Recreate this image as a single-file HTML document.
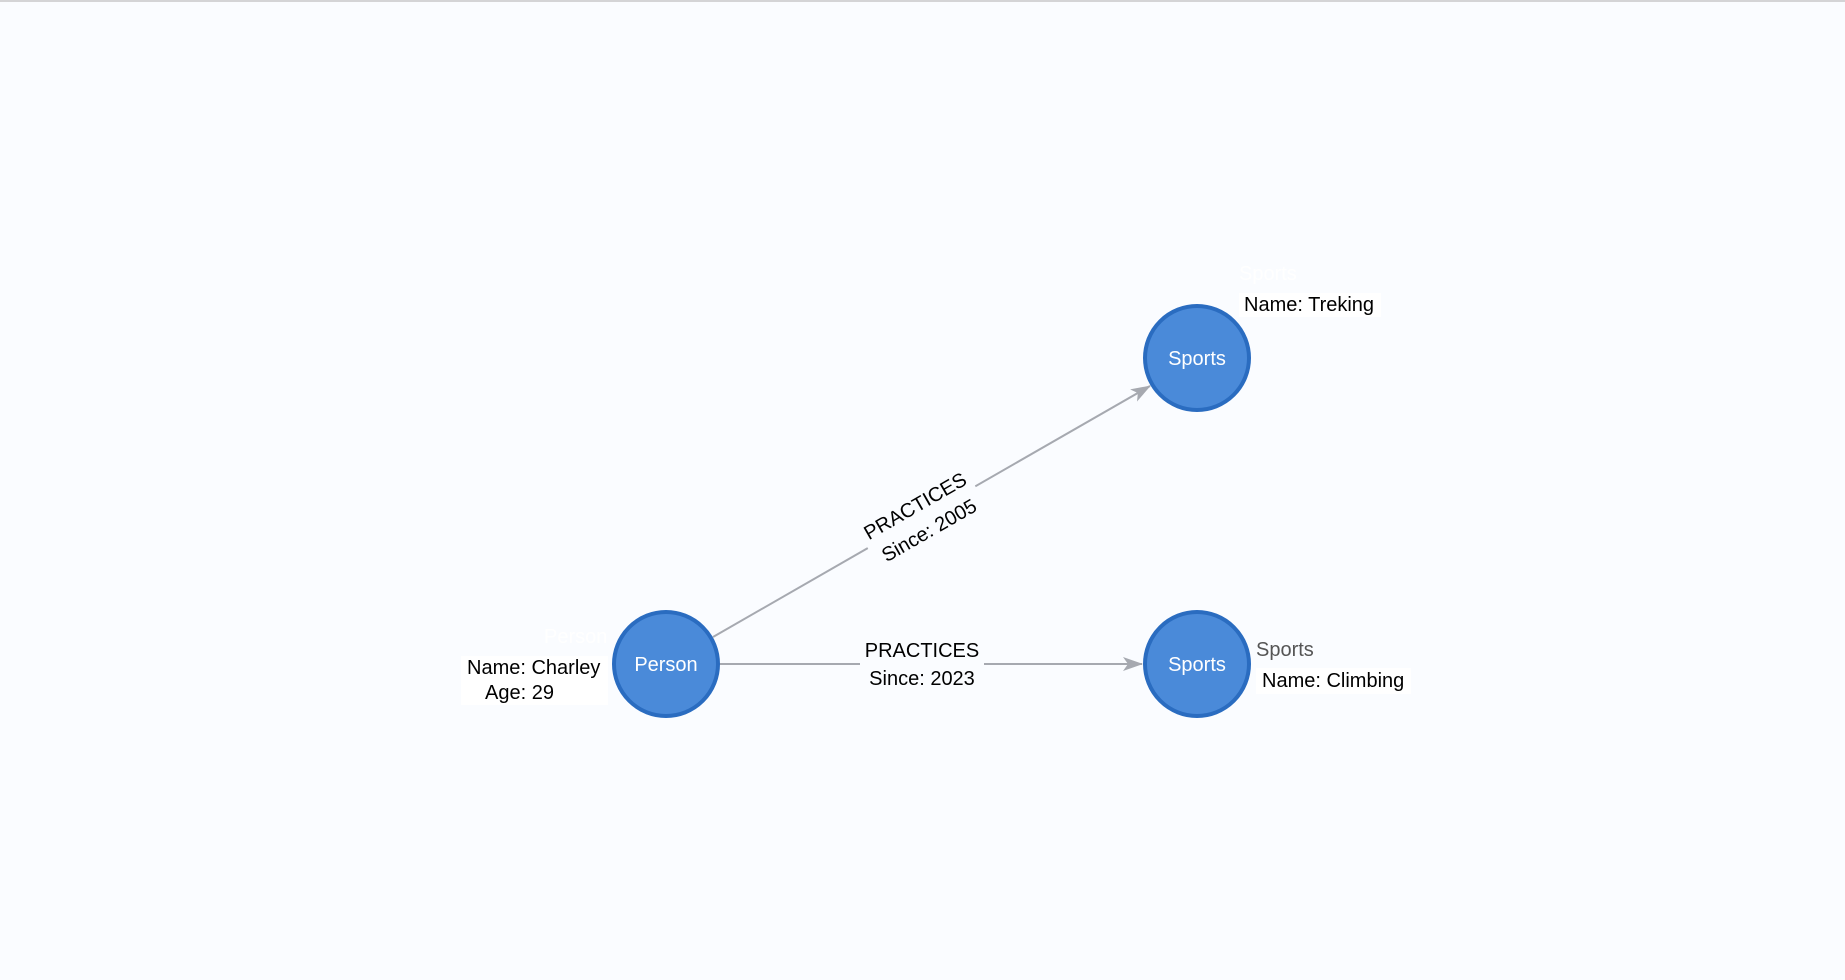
<!DOCTYPE html>
<html><head><meta charset="utf-8"><style>
html,body{margin:0;padding:0;background:#fafcff;}
body{width:1845px;height:975px;overflow:hidden;font-family:"Liberation Sans",sans-serif;}
</style></head><body>
<svg width="1845" height="975" xmlns="http://www.w3.org/2000/svg" font-family="Liberation Sans, sans-serif">
<rect width="1845" height="975" fill="#fafcff"/>
<rect x="0" y="0" width="1845" height="2" fill="#d4d4d6"/>
<defs>
<marker id="ar" markerWidth="20" markerHeight="14" refX="19" refY="7" orient="auto" markerUnits="userSpaceOnUse">
<path d="M0,0 L20,7 L0,14 L5,7 Z" fill="#a6a9b0"/>
</marker>
</defs>
<!-- edges -->
<line x1="719" y1="664" x2="1142" y2="664" stroke="#a6a9b0" stroke-width="2" marker-end="url(#ar)"/>
<line x1="713" y1="637" x2="1150" y2="386" stroke="#a6a9b0" stroke-width="2" marker-end="url(#ar)"/>
<!-- horizontal edge label -->
<rect x="860" y="636" width="124" height="56" fill="#fafcff"/>
<text x="922" y="657" font-size="20" text-anchor="middle" fill="#000">PRACTICES</text>
<text x="922" y="685" font-size="20" text-anchor="middle" fill="#000">Since: 2023</text>
<!-- diagonal edge label -->
<g transform="translate(922,518) rotate(-29.8)">
<rect x="-62" y="-30" width="124" height="58" fill="#fafcff"/>
<text x="0" y="-7" font-size="20" text-anchor="middle" fill="#000">PRACTICES</text>
<text x="0" y="21" font-size="20" text-anchor="middle" fill="#000">Since: 2005</text>
</g>
<!-- nodes -->
<circle cx="666" cy="664" r="52" fill="#4a8ad9" stroke="#2a6cc0" stroke-width="4"/>
<text x="666" y="671" font-size="20" text-anchor="middle" fill="#fff">Person</text>
<circle cx="1197" cy="358" r="52" fill="#4a8ad9" stroke="#2a6cc0" stroke-width="4"/>
<text x="1197" y="365" font-size="20" text-anchor="middle" fill="#fff">Sports</text>
<circle cx="1197" cy="664" r="52" fill="#4a8ad9" stroke="#2a6cc0" stroke-width="4"/>
<text x="1197" y="671" font-size="20" text-anchor="middle" fill="#fff">Sports</text>
<!-- person labels -->
<text x="544" y="643" font-size="20" fill="#ffffff">Person</text>
<rect x="461" y="656" width="147" height="49" fill="#ffffff"/>
<text x="467" y="674" font-size="20" fill="#000">Name: Charley</text>
<text x="485" y="699" font-size="20" fill="#000">Age: 29</text>
<!-- top sports labels -->
<text x="1239" y="280" font-size="20" fill="#ffffff">Sports</text>
<rect x="1239" y="293" width="142" height="24" fill="#ffffff"/>
<text x="1244" y="311" font-size="20" fill="#000">Name: Treking</text>
<!-- bottom sports labels -->
<text x="1256" y="656" font-size="20" fill="#555">Sports</text>
<rect x="1256" y="668" width="155" height="26" fill="#ffffff"/>
<text x="1262" y="687" font-size="20" fill="#000">Name: Climbing</text>
</svg>
</body></html>
